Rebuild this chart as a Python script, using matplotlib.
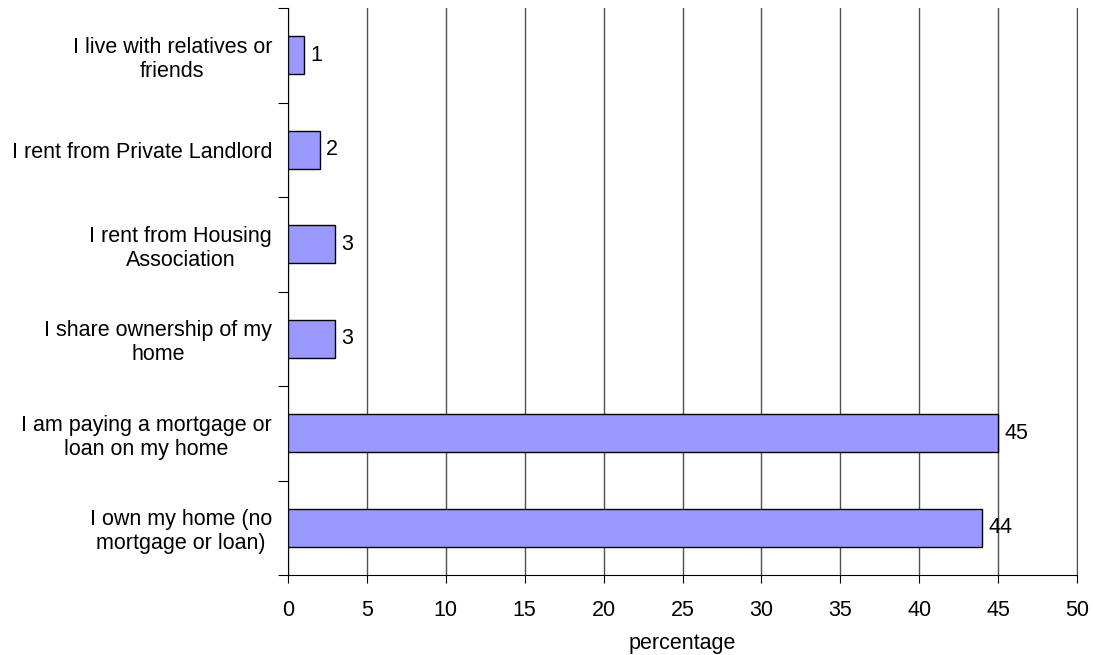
import matplotlib
matplotlib.use("Agg")
import matplotlib.pyplot as plt
import numpy as np

categories = [
    "I own my home (no\nmortgage or loan)",
    "I am paying a mortgage or\nloan on my home",
    "I share ownership of my\nhome",
    "I rent from Housing\nAssociation",
    "I rent from Private Landlord",
    "I live with relatives or\nfriends",
]
values = [44, 45, 3, 3, 2, 1]
xticks = [0, 5, 10, 15, 20, 25, 30, 35, 40, 45, 50]

plt.rcParams['font.family'] = ['Liberation Sans', 'DejaVu Sans']
FS = 15.5
plt.rcParams['font.size'] = FS

fig = plt.figure(figsize=(10.93, 6.55), dpi=100)
ax = fig.add_axes([288/1093, 1-575/655, (1077-288)/1093, (575-8)/655])

y = np.arange(len(categories))
ax.barh(y, values, height=0.4, color='#9999FF', edgecolor='black', linewidth=1, zorder=3)
for yi, v in zip(y, values):
    ax.annotate(str(v), (v, yi), xytext=(4.5, 0), textcoords='offset points',
                va='center', ha='left', fontsize=FS, zorder=4)

ax.set_xlim(0, 50)
ax.set_ylim(-0.5, len(categories) - 0.5)
ax.set_xticks(xticks)
ax.xaxis.grid(True, color='#505050', linewidth=1, zorder=0)
ax.set_yticks(np.arange(-0.5, len(categories), 1.0))
ax.set_yticklabels([])
ax.set_yticks(y, minor=True)
ax.set_yticklabels(categories, minor=True, ha='right', multialignment='center',
                   linespacing=1.2)
ax.tick_params(axis='y', which='minor', length=0, pad=11.5)
ax.tick_params(axis='y', which='major', length=7, direction='out')
ax.tick_params(axis='x', length=6, direction='out', pad=12, labelsize=FS)
ax.spines['top'].set_visible(False)
ax.spines['right'].set_color('#505050')
ax.set_xlabel('percentage', fontsize=FS, labelpad=9)

fig.savefig('out.png', dpi=100)
